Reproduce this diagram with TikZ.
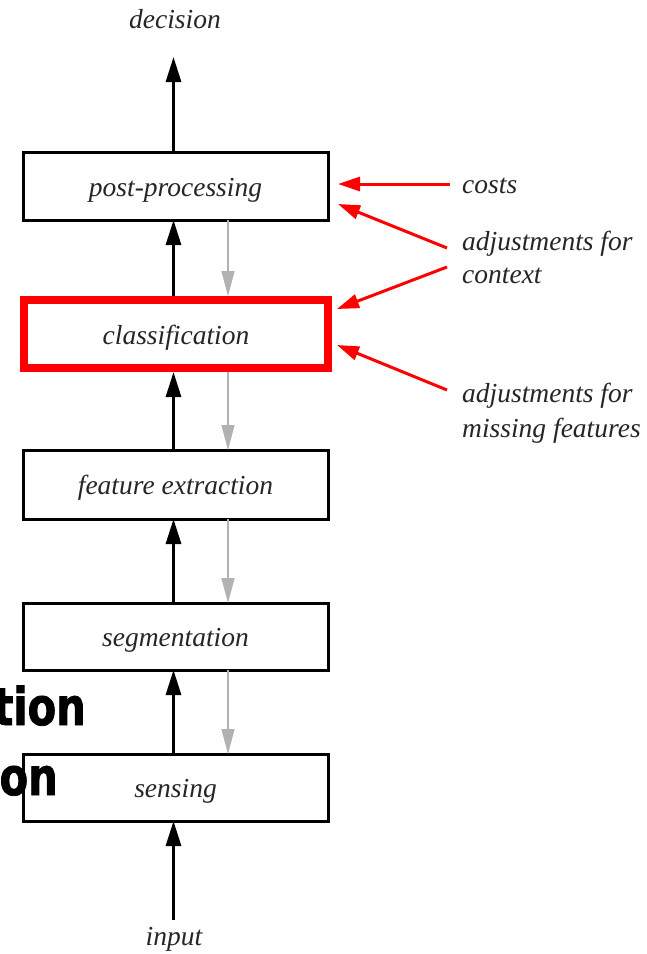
\documentclass[tikz,border=0pt]{standalone}
\usepackage{fontspec}
\setmainfont{Liberation Serif}
\newfontfamily\bsans{DejaVu Sans}[FakeStretch=0.8, BoldFeatures={FakeBold=1.5}]
\usetikzlibrary{arrows.meta}
\begin{document}
\begin{tikzpicture}[x=1pt,y=-1pt,
  lbl/.style={font=\fontsize{27.5}{33}\selectfont\itshape, text=black!85, inner sep=0},
  stage/.style={draw=black, line width=3, minimum width=305, inner sep=0, outer sep=0, lbl, text height=24, text depth=4},
  redstage/.style={draw=red, line width=8, minimum width=304, minimum height=68, inner sep=0, outer sep=4, lbl, text height=24, text depth=4},
  blk/.style={draw=black, line width=3, -{Triangle[length=25, width=15]}},
  gry/.style={draw=black!30, line width=1.5, -{Triangle[length=25, width=13]}},
  rarr/.style={draw=red, line width=3, -{Triangle[length=22, width=14]}},
  side/.style={lbl, anchor=base west},
  big/.style={font=\bsans\bfseries\fontsize{52}{60}\selectfont, inner sep=0, anchor=base east}
]
\clip (0,0) rectangle (647,954);
\fill[white] (0,0) rectangle (647,954);
% clipped bold text behind
\node[big] (tion) at (86,725) {tion};
\node[big] (on) at (58,795) {on};
% stages
\node[stage, minimum height=68] (post) at (175.5,186) {post-processing};
\node[redstage] (cls) at (176,334) {classification};
\node[stage, minimum height=69] (feat) at (175.5,484.5) {feature extraction};
\node[stage, minimum height=67] (seg) at (175.5,636.5) {segmentation};
\node[stage, minimum height=67] (sens) at (175.5,787.5) {sensing};
% ends
\node[lbl, anchor=base] (dec) at (175,28) {decision};
\node[lbl, anchor=base] (inp) at (174,945) {input};
\coordinate (dtip) at (175.5,57);
\coordinate (inbot) at (175.5,920);
% upward black arrows
\draw[blk] ([xshift=-2]post.north) -- ([xshift=-2]dtip);
\draw[blk] ([xshift=-2.5]cls.north) -- ([xshift=-2]post.south);
\draw[blk] ([xshift=-2]feat.north) -- ([xshift=-2.5]cls.south);
\draw[blk] ([xshift=-2]seg.north) -- ([xshift=-2]feat.south);
\draw[blk] ([xshift=-2]sens.north) -- ([xshift=-2]seg.south);
\draw[blk] ([xshift=-2]inbot) -- ([xshift=-2]sens.south);
% downward gray arrows
\draw[gry] ([xshift=52.5]post.south) -- ([xshift=52]cls.north);
\draw[gry] ([xshift=52]cls.south) -- ([xshift=52.5]feat.north);
\draw[gry] ([xshift=52.5]feat.south) -- ([xshift=52.5]seg.north);
\draw[gry] ([xshift=52.5]seg.south) -- ([xshift=52.5]sens.north);
% side labels
\node[side] (costs) at (462,193) {costs};
\node[side] (adj1) at (462,250) {adjustments for};
\node[side] (ctx) at (462,283) {context};
\node[side] (adj2) at (462,402) {adjustments for};
\node[side] (miss) at (462,437) {missing features};
% red arrows
\coordinate (r1s) at (450,184);
\coordinate (r1t) at (338,184);
\coordinate (r2s) at (447,248);
\coordinate (r2t) at (338,204);
\coordinate (r3s) at (447,267);
\coordinate (r3t) at (337,309);
\coordinate (r4s) at (447,390);
\coordinate (r4t) at (337,345);
\draw[rarr] (r1s) -- (r1t);
\draw[rarr] (r2s) -- (r2t);
\draw[rarr] (r3s) -- (r3t);
\draw[rarr] (r4s) -- (r4t);
\end{tikzpicture}
\end{document}
